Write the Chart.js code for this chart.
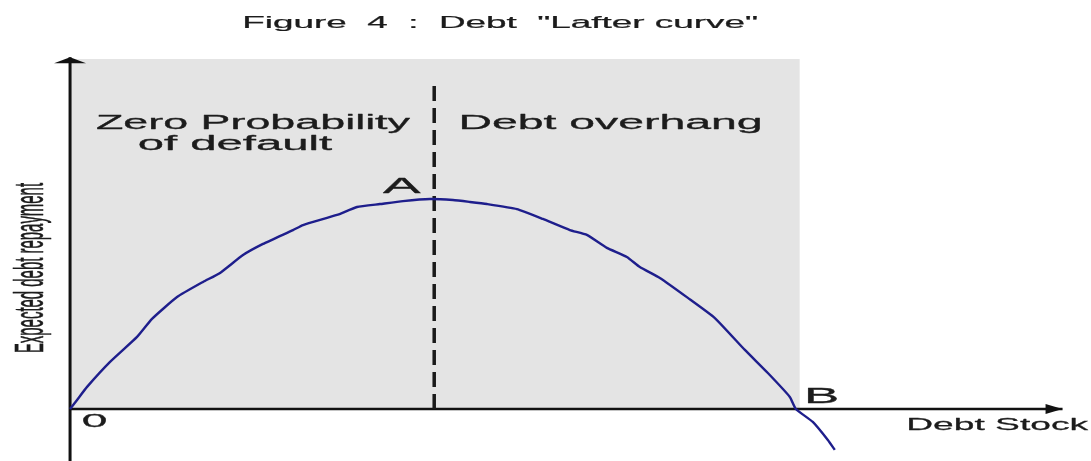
<!DOCTYPE html>
<html>
<head>
<meta charset="utf-8">
<script src="https://cdn.jsdelivr.net/npm/chart.js@4.4.1/dist/chart.umd.min.js"></script>
<style>
  html, body { margin: 0; padding: 0; background: #fff; }
  #wrap { width: 1091px; height: 461px; }
</style>
</head>
<body>
<div id="wrap"><canvas id="chart" width="1091" height="461"></canvas></div>
<script>
// curve: debt stock (x) vs expected repayment (y), peak A = 100
const debtStock = [0, 0.96, 2.33, 5.48, 9.18, 11.23, 14.66, 18.22, 20.55, 23.7, 26.44, 30.55, 31.92, 36.58,
                   39.32, 42.47, 45.62, 49.32, 52.47, 54.79, 57.12, 61.23, 64.79, 68.49, 70.82, 73.56,
                   76.3, 78.08, 80.82, 84.66, 88.36, 92.47, 95.62, 98.63, 99.45, 101.78, 103.84, 104.79];
const repayment = [0, 4.3, 10.5, 22.4, 34.3, 42.9, 53.3, 60.5, 64.8, 73.3, 78.6, 85.2, 87.6, 92.4,
                   96.2, 97.6, 99.0, 100, 99.5, 98.6, 97.6, 95.2, 90.5, 85.2, 82.9, 76.7,
                   72.4, 67.6, 62.4, 52.9, 43.3, 28.1, 17.1, 5.7, 0, -6.2, -14.8, -19.5];

// shaded zone and the A divider
const zoneX = [0, 100];
const zoneY = [166.7, 166.7];
const dividerX = [49.9, 49.9];
const dividerY = [0, 153.8];

// axis extents
const xAxisX = [0, 136];
const yAxisY = [-25, 167.5];

const titleText = 'Figure  4  :  Debt  "Lafter curve"';
const yLabel = 'Expected debt repayment';
const xLabel = 'Debt Stock';

const pts = (xs, ys) => xs.map((x, i) => ({x: x, y: ys[i]}));

// draw text squeezed/stretched into a box: ink from x0 to x1, given cap height
function fitText(ctx, text, x0, x1, baseline, capH) {
    const size = 40;
    ctx.font = `${size}px "Liberation Sans", Arial, sans-serif`;
    const m = ctx.measureText(text);
    const inkW = m.actualBoundingBoxLeft + m.actualBoundingBoxRight;
    const cap = ctx.measureText('H').actualBoundingBoxAscent;
    ctx.save();
    ctx.translate(x0, baseline);
    ctx.scale((x1 - x0) / inkW, capH / cap);
    ctx.textAlign = 'left';
    ctx.textBaseline = 'alphabetic';
    ctx.lineWidth = 0.6;
    ctx.lineJoin = 'round';
    ctx.fillText(text, m.actualBoundingBoxLeft, 0);
    ctx.strokeText(text, m.actualBoundingBoxLeft, 0);
    ctx.restore();
}

const decorations = {
    id: 'decorations',
    afterDatasetsDraw(chart) {
        const ctx = chart.ctx;
        const xs = chart.scales.x, ys = chart.scales.y;
        ctx.save();
        ctx.fillStyle = '#111';

        // arrow heads
        const ox = xs.getPixelForValue(0);
        const topY = ys.getPixelForValue(yAxisY[1]);
        ctx.beginPath();
        ctx.moveTo(ox, topY);
        ctx.lineTo(ox - 16, topY + 6);
        ctx.lineTo(ox + 16, topY + 6);
        ctx.closePath();
        ctx.fill();

        const endX = xs.getPixelForValue(xAxisX[1]);
        const oy = ys.getPixelForValue(0);
        ctx.beginPath();
        ctx.moveTo(endX, oy);
        ctx.lineTo(endX - 17, oy - 5);
        ctx.lineTo(endX - 17, oy + 5);
        ctx.closePath();
        ctx.fill();

        // texts
        ctx.fillStyle = '#1c1c1c';
        ctx.strokeStyle = '#1c1c1c';
        fitText(ctx, titleText, 245, 757, 28, 11);
        fitText(ctx, 'Zero Probability', 97, 410, 129, 14);
        fitText(ctx, 'of default', 139, 332, 150, 14);
        fitText(ctx, 'Debt overhang', 462, 760, 129, 14);
        fitText(ctx, 'A', 383, 421, 193, 15);
        fitText(ctx, 'B', 808, 837, 403, 15);
        fitText(ctx, '0', 83, 106, 427, 13);
        fitText(ctx, xLabel, 909, 1089, 430, 12);

        // rotated y label
        ctx.save();
        ctx.translate(43, 352);
        ctx.rotate(-Math.PI / 2);
        fitText(ctx, yLabel, 0, 169, 0, 29);
        ctx.restore();

        ctx.restore();
    }
};

new Chart(document.getElementById('chart'), {
    type: 'line',
    data: {
        datasets: [
            {
                data: pts(debtStock, repayment),
                borderColor: '#1e1e8c',
                borderWidth: 2.4,
                tension: 0.15,
                pointRadius: 0,
                fill: false,
                order: 0
            },
            {
                data: pts(dividerX, dividerY),
                borderColor: '#1a1a1a',
                borderWidth: 3.5,
                borderDash: [15, 7],
                pointRadius: 0,
                fill: false,
                order: 1
            },
            {
                data: pts(xAxisX, [0, 0]),
                borderColor: '#111',
                borderWidth: 2.5,
                pointRadius: 0,
                fill: false,
                order: 2
            },
            {
                data: pts([0, 0], yAxisY),
                borderColor: '#111',
                borderWidth: 3,
                pointRadius: 0,
                fill: false,
                order: 2
            },
            {
                data: pts(zoneX, zoneY),
                borderWidth: 0,
                borderColor: 'rgba(0,0,0,0)',
                backgroundColor: '#e4e4e4',
                pointRadius: 0,
                fill: 'origin',
                order: 3
            }
        ]
    },
    options: {
        responsive: false,
        animation: false,
        events: [],
        layout: { padding: 0 },
        scales: {
            x: { type: 'linear', display: false, min: -9.6, max: 139.9 },
            y: { type: 'linear', display: false, min: -24.8, max: 194.8 }
        },
        plugins: {
            legend: { display: false },
            tooltip: { enabled: false },
            title: { display: false }
        }
    },
    plugins: [decorations]
});
</script>
</body>
</html>
